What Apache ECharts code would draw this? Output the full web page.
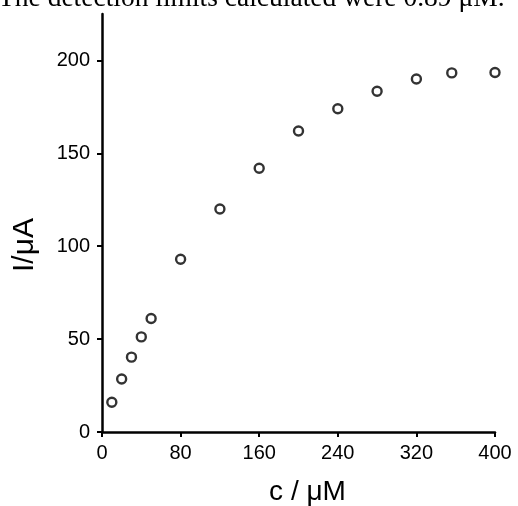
<!DOCTYPE html>
<html>
<head>
<meta charset="utf-8">
<script src="https://cdn.jsdelivr.net/npm/echarts@6/dist/echarts.min.js"></script>
<style>html,body{margin:0;padding:0;background:#fff}#c{width:518px;height:506px}</style>
</head>
<body>
<div id="c"></div>
<script>
const concentrations = [10, 20, 30, 40, 50, 80, 120, 160, 200, 240, 280, 320, 356, 400];
const currents = [16, 28.5, 40.3, 51.2, 61.1, 93, 120, 142, 162, 174, 183.4, 190, 193.3, 193.5];
const yTicks = [0, 50, 100, 150, 200];
const xTicks = [0, 80, 160, 240, 320, 400];
const caption = 'The detection limits calculated were 0.89 μM.';
const xName = 'c / μM';
const yName = 'I/μA';

const chart = echarts.init(document.getElementById('c'), null, {renderer: 'canvas'});
const font = 'Liberation Sans, Arial, sans-serif';
chart.setOption({
  animation: false,
  backgroundColor: '#fff',
  grid: {left: 102, right: 23, top: 14, bottom: 74, containLabel: false, outerBoundsMode: 'none'},
  graphic: [{
    type: 'text', left: -2, top: -15,
    style: {text: caption, fill: '#000', font: '27.5px "Liberation Serif", "Times New Roman", serif'}
  }],
  xAxis: {
    type: 'value', min: 0, max: 400, interval: 80,
    name: xName, nameLocation: 'middle', nameGap: 46,
    nameTextStyle: {fontFamily: font, fontSize: 28, color: '#000', padding: [0, 0, 0, 18]},
    axisLine: {show: true, onZero: false, lineStyle: {color: '#000', width: 2.5}},
    axisTick: {show: true, length: 5, lineStyle: {color: '#000', width: 2}},
    axisLabel: {fontFamily: font, fontSize: 20, color: '#000', margin: 11, customValues: xTicks},
    splitLine: {show: false}
  },
  yAxis: {
    type: 'value', min: 0, max: 225, interval: 50,
    name: yName, nameLocation: 'middle', nameGap: 62, nameRotate: 90,
    nameTextStyle: {fontFamily: font, fontSize: 30, color: '#000', padding: [0, 44, 0, 0]},
    axisLine: {show: true, onZero: false, lineStyle: {color: '#000', width: 2.5}},
    axisTick: {show: true, length: 5, lineStyle: {color: '#000', width: 2}, customValues: yTicks},
    axisLabel: {fontFamily: font, fontSize: 20, color: '#000', margin: 12, customValues: yTicks},
    splitLine: {show: false}
  },
  series: [{
    type: 'scatter',
    data: concentrations.map((c, i) => [c, currents[i]]),
    symbol: 'circle', symbolSize: 9,
    itemStyle: {color: '#fff', borderColor: '#000', borderWidth: 2.4}
  }]
});
</script>
</body>
</html>
